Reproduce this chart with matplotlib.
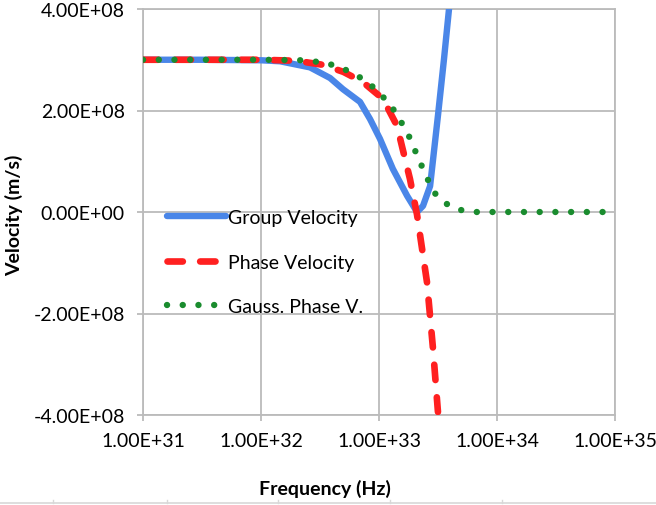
import numpy as np
import matplotlib
matplotlib.use("Agg")
import matplotlib.pyplot as plt
from matplotlib.ticker import FuncFormatter, FixedLocator, NullLocator
from matplotlib.lines import Line2D

plt.rcParams['font.family'] = ['Lato', 'DejaVu Sans']

# values
group_f = [1.0e31, 3.0e31, 1.0e32, 1.45e32, 1.76e32, 2.6e32, 3.85e32, 4.95e32, 6.9e32,
           8.4e32, 1.02e33, 1.31e33, 1.73e33, 2.10e33, 2.36e33, 2.71e33, 3.16e33,
           3.55e33, 3.92e33, 4.2e33]
group_v = [3.0e8, 3.0e8, 2.99e8, 2.97e8, 2.93e8, 2.85e8, 2.64e8, 2.42e8, 2.17e8,
           1.83e8, 1.44e8, 0.85e8, 0.32e8, 0.0, 0.12e8, 0.51e8, 1.9e8,
           3.0e8, 4.0e8, 4.6e8]

phase_f = [1.0e31, 1.0e32, 2.0e32, 3.35e32, 5.0e32, 7.3e32, 1.08e33, 1.42e33, 1.83e33,
           2.10e33, 2.55e33, 2.87e33, 3.16e33]
phase_v = [3.0e8, 3.0e8, 2.98e8, 2.9e8, 2.76e8, 2.56e8, 2.23e8, 1.7e8, 0.65e8,
           -0.05e8, -1.38e8, -2.7e8, -3.94e8]

gauss_f = [1.0e31, 1.0e32, 2.2e32, 3.3e32, 4.67e32, 7.9e32, 1.24e33, 1.73e33, 2.22e33,
           2.87e33, 3.48e33, 4.58e33, 6.5e33, 1.0e34, 1.0e35]
gauss_v = [3.0e8, 3.0e8, 2.99e8, 2.95e8, 2.86e8, 2.58e8, 2.13e8, 1.58e8, 0.99e8,
           0.41e8, 0.2e8, 0.05e8, 0.0, 0.0, 0.0]

x_ticks = [1e31, 1e32, 1e33, 1e34, 1e35]
y_ticks = [-4e8, -2e8, 0, 2e8, 4e8]

fig = plt.figure(figsize=(6.56, 5.06), dpi=100)
ax = fig.add_axes([143/656, 1-416/506, 472/656, 406/506])

ax.plot(group_f, group_v, color='#4A86E8', lw=4.6, solid_capstyle='round',
        label='Group Velocity', zorder=3)
ax.plot(phase_f, phase_v, color='#FF2020', lw=4.8, dashes=(2.3, 2.6),
        dash_capstyle='round', label='Phase Velocity', zorder=4)
ax.plot(gauss_f, gauss_v, color='#1A8C2E', lw=4.6, dashes=(0.01, 2.45),
        dash_capstyle='round', label='Gauss. Phase V.', zorder=5)

ax.set_xscale('log')
ax.set_xlim(1e31, 1e35)
ax.set_ylim(-4e8, 4e8)
ax.xaxis.set_major_locator(FixedLocator(x_ticks))
ax.xaxis.set_minor_locator(NullLocator())
ax.yaxis.set_major_locator(FixedLocator(y_ticks))
fmt = FuncFormatter(lambda v, p: f"{v:.2E}")
ax.xaxis.set_major_formatter(fmt)
ax.yaxis.set_major_formatter(fmt)

ax.grid(True, color='#BBBBBB', lw=1.3)
ax.set_axisbelow(True)
for s in ax.spines.values():
    s.set_color('#BBBBBB')
    s.set_linewidth(1.3)
ax.tick_params(colors='#BBBBBB', length=4, width=1.3, labelcolor='black',
               labelsize=14)
ax.tick_params(axis='x', pad=8)
ax.tick_params(axis='y', pad=9)

ax.set_xlabel('Frequency (Hz)', fontsize=14, fontweight='bold')
ax.xaxis.set_label_coords((325-143)/472, (416-489)/406)
ax.xaxis.label.set_va('center')
ax.set_ylabel('Velocity (m/s)', fontsize=14, fontweight='bold')
ax.yaxis.set_label_coords((14-143)/472, (416-215)/406)
ax.yaxis.label.set_va('center')

leg = ax.legend(loc='upper left', bbox_to_anchor=((167-143)/472, (416-210)/406),
                frameon=False, fontsize=14, handlelength=3.05, handletextpad=0.1,
                labelspacing=1.42, borderaxespad=0, borderpad=0)

# faint border line at the very bottom of the screenshot
fig.add_artist(Line2D([0, 1], [1-504/506]*2, color='#D8D8D8', lw=1.2,
                      transform=fig.transFigure))
for tx in [53, 167, 278, 390, 502]:
    fig.add_artist(Line2D([tx/656]*2, [1-504/506, 1-501/506], color='#D8D8D8',
                          lw=1.0, transform=fig.transFigure))

fig.savefig('out.png', dpi=100)
